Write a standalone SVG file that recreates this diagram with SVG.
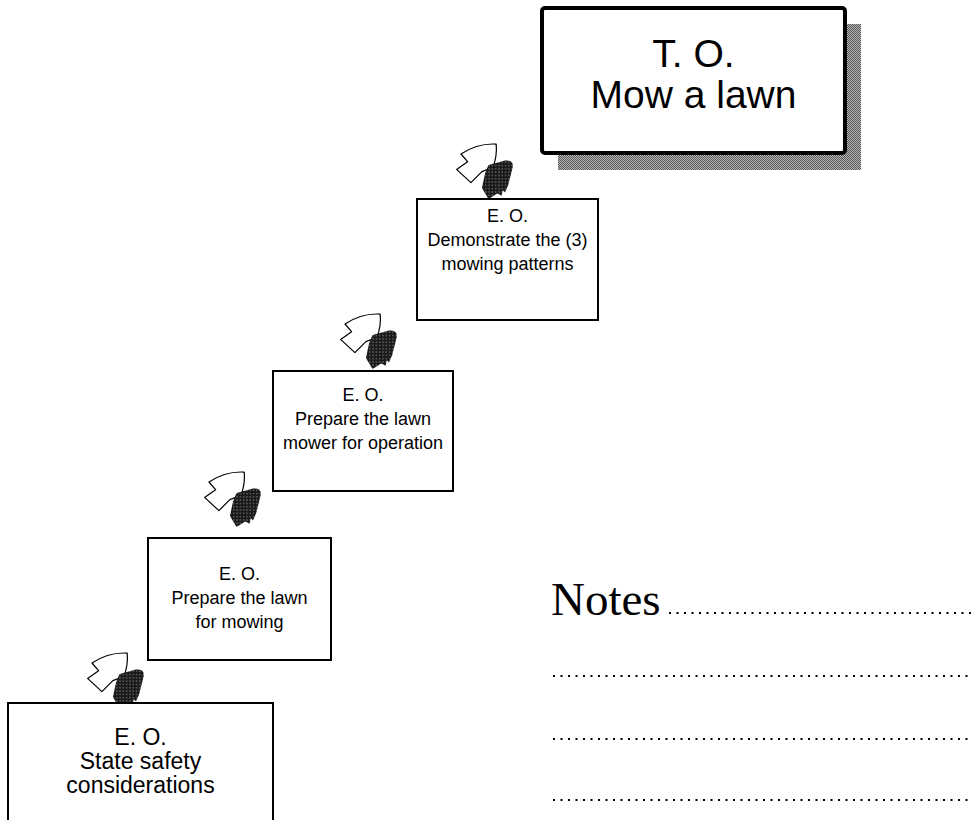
<svg xmlns="http://www.w3.org/2000/svg" width="973" height="820" viewBox="0 0 973 820">
<style>
.box{fill:#fff;stroke:#000;stroke-width:2}
.big{fill:#fff;stroke:#000;stroke-width:4}
.t{font-family:"Liberation Sans",Arial,sans-serif;font-size:18px;fill:#000;text-anchor:middle}
.t1{font-family:"Liberation Sans",Arial,sans-serif;font-size:23px;fill:#000;text-anchor:middle}
.tb{font-family:"Liberation Sans",Arial,sans-serif;font-size:39px;fill:#000;text-anchor:middle}
.notes{font-family:"Liberation Serif","Times New Roman",serif;font-size:47px;fill:#000}
.dots{stroke:#000;stroke-width:2;stroke-dasharray:2 5.5;fill:none}
</style>
<defs>
<pattern id="shade" width="2" height="2" patternUnits="userSpaceOnUse">
<rect width="2" height="2" fill="#b8b8b8"/>
<rect width="1" height="1" fill="#555"/>
<rect x="1" y="1" width="1" height="1" fill="#555"/>
</pattern>
<pattern id="dark" width="3" height="3" patternUnits="userSpaceOnUse">
<rect width="3" height="3" fill="#1a1a1a"/>
<rect x="1" y="1" width="1" height="1" fill="#999"/>
</pattern>
<g id="icon">
<path d="M0,0 Q15,-10 32,-9 Q33,2 29,12 L19,16 L9,26 L-4,14 L6,7 Z" fill="#fff" stroke="#000" stroke-width="1.1" stroke-linejoin="round"/>
<path d="M25,10 L40,6 Q48,5 47,12 L43,28 L40,35 L38,33 L37,38 L33,36 L25,41 L19,31 L22,17 Z" fill="url(#dark)"/>
</g>
</defs>
<rect width="973" height="820" fill="#fff"/>

<g id="connectors">
<use href="#icon" transform="translate(461,154) scale(1.1)"/>
<use href="#icon" transform="translate(345,324) scale(1.1)"/>
<use href="#icon" transform="translate(209,482) scale(1.1)"/>
<use href="#icon" transform="translate(92,663) scale(1.1)"/>
</g>

<g id="to">
<rect x="558" y="24" width="303" height="146" fill="url(#shade)"/>
<rect class="big" x="542" y="8" width="303" height="145" rx="3"/>
<text class="tb" x="693.5" y="67">T. O.</text>
<text class="tb" x="693.5" y="108">Mow a lawn</text>
</g>

<g id="eo4">
<rect class="box" x="417" y="199" width="181" height="121"/>
<text class="t" x="507.5" y="222">E. O.</text>
<text class="t" x="507.5" y="246">Demonstrate the (3)</text>
<text class="t" x="507.5" y="270">mowing patterns</text>
</g>

<g id="eo3">
<rect class="box" x="273" y="371" width="180" height="120"/>
<text class="t" x="363" y="401">E. O.</text>
<text class="t" x="363" y="425">Prepare the lawn</text>
<text class="t" x="363" y="449">mower for operation</text>
</g>

<g id="eo2">
<rect class="box" x="148" y="538" width="183" height="122"/>
<text class="t" x="239.5" y="580">E. O.</text>
<text class="t" x="239.5" y="604">Prepare the lawn</text>
<text class="t" x="239.5" y="628">for mowing</text>
</g>

<g id="eo1">
<rect class="box" x="8" y="703" width="265" height="130"/>
<text class="t1" x="140.5" y="745">E. O.</text>
<text class="t1" x="140.5" y="769">State safety</text>
<text class="t1" x="140.5" y="793">considerations</text>
</g>

<g id="notes">
<text class="notes" x="551" y="615">Notes</text>
<path class="dots" d="M669,613 H973 M553,676 H973 M553,739 H973 M553,800 H973"/>
</g>
</svg>
